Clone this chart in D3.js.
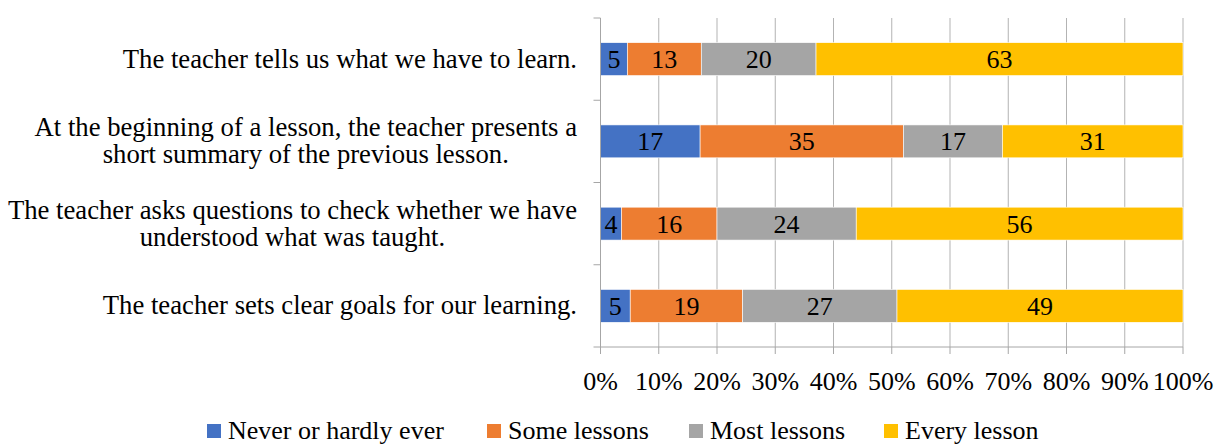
<!DOCTYPE html>
<html>
<head>
<meta charset="utf-8">
<script src="https://cdn.jsdelivr.net/npm/d3@7"></script>
<style>
  body { margin: 0; background: #fff; }
  svg { display: block; font-family: "Liberation Serif", "Times New Roman", serif; }
</style>
</head>
<body>
<div id="chart"></div>
<script>
// categories, top to bottom
const categories = [
  ['The teacher tells us what we have to learn.'],
  ['At the beginning of a lesson, the teacher presents a', 'short summary of the previous lesson.'],
  ['The teacher asks questions to check whether we have', 'understood what was taught.'],
  ['The teacher sets clear goals for our learning.']
];
const seriesNames = ['Never or hardly ever', 'Some lessons', 'Most lessons', 'Every lesson'];
const seriesColors = ['#4472C4', '#ED7D31', '#A5A5A5', '#FFC000'];

// percentages per category, one array per series
const never = [4.6, 17.1, 3.6, 5.1];
const some  = [12.7, 34.9, 16.4, 19.3];
const most  = [19.7, 17.0, 23.9, 26.5];
const every = [63.0, 31.0, 56.1, 49.1];

const xTicks = [0, 10, 20, 30, 40, 50, 60, 70, 80, 90, 100];

const width = 1217, height = 444;
const margin = { top: 18, left: 600.5, right: 34, bottom: 97 };
const fontSize = 26;

const svg = d3.select('#chart').append('svg')
  .attr('width', width)
  .attr('height', height);

const x = d3.scaleLinear().domain([0, 100]).range([margin.left, width - margin.right]);
const y = d3.scaleBand()
  .domain(d3.range(categories.length))
  .range([margin.top, height - margin.bottom])
  .paddingInner(0.6)
  .paddingOuter(0.3);

/* ---------- grid ---------- */
svg.append('g')
  .selectAll('line')
  .data(xTicks.slice(1))
  .enter().append('line')
  .attr('x1', d => x(d)).attr('x2', d => x(d))
  .attr('y1', margin.top).attr('y2', height - margin.bottom)
  .style('stroke', '#B3B3B3')
  .style('stroke-width', 1);

/* ---------- stacked bars ---------- */
const rows = categories.map((c, i) => {
  const vals = [never[i], some[i], most[i], every[i]];
  const total = d3.sum(vals);
  let acc = 0;
  return vals.map((v, k) => {
    const p = v / total * 100;
    const seg = { row: i, k: k, v: v, x0: acc, x1: acc + p };
    acc += p;
    return seg;
  });
});

const segs = svg.append('g').selectAll('g')
  .data(rows.flat())
  .enter().append('g');

segs.append('rect')
  .attr('x', d => x(d.x0))
  .attr('width', d => x(d.x1) - x(d.x0))
  .attr('y', d => y(d.row))
  .attr('height', y.bandwidth())
  .style('fill', d => seriesColors[d.k])
  .style('stroke', '#fff')
  .style('stroke-width', 0.6);

segs.append('text')
  .attr('x', d => (x(d.x0) + x(d.x1)) / 2)
  .attr('y', d => y(d.row) + y.bandwidth() / 2 + 9)
  .attr('text-anchor', 'middle')
  .style('font-size', fontSize + 'px')
  .style('fill', '#000')
  .text(d => Math.round(d.v));

/* ---------- axes ---------- */
const axisColor = '#A6A6A6';
const axis = svg.append('g');
axis.append('line')
  .attr('x1', x(0)).attr('x2', x(0))
  .attr('y1', margin.top).attr('y2', height - margin.bottom)
  .style('stroke', axisColor);
axis.append('line')
  .attr('x1', x(0)).attr('x2', x(100))
  .attr('y1', height - margin.bottom).attr('y2', height - margin.bottom)
  .style('stroke', axisColor);

// category boundary ticks on y axis
const bounds = d3.range(categories.length + 1).map(i => margin.top + i * y.step());
axis.selectAll('.ytick')
  .data(bounds)
  .enter().append('line')
  .attr('x1', x(0) - 7).attr('x2', x(0))
  .attr('y1', d => d).attr('y2', d => d)
  .style('stroke', axisColor);

axis.selectAll('.xtick')
  .data(xTicks)
  .enter().append('line')
  .attr('x1', d => x(d)).attr('x2', d => x(d))
  .attr('y1', height - margin.bottom).attr('y2', height - margin.bottom + 7)
  .style('stroke', axisColor);

axis.selectAll('.xlabel')
  .data(xTicks)
  .enter().append('text')
  .attr('x', d => x(d))
  .attr('y', 390)
  .attr('text-anchor', 'middle')
  .style('font-size', fontSize + 'px')
  .text(d => d + '%');

/* ---------- category labels ---------- */
const labelRight = 577;
const lineH = 27;
categories.forEach((lines, i) => {
  const cy = y(i) + y.bandwidth() / 2;
  const g = svg.append('g');
  const texts = lines.map((t, j) => g.append('text')
    .attr('y', cy + (j - (lines.length - 1) / 2) * lineH + 8.5)
    .attr('text-anchor', 'middle')
    .style('font-size', '26.7px')
    .text(t));
  const w = d3.max(texts, t => t.node().getComputedTextLength());
  texts.forEach(t => t.attr('x', labelRight - w / 2));
});

/* ---------- legend ---------- */
const legendX = [207, 487, 689, 884];
const legend = svg.append('g').selectAll('g')
  .data(seriesNames)
  .enter().append('g')
  .attr('transform', (d, i) => 'translate(' + legendX[i] + ',0)');
legend.append('rect')
  .attr('x', 0).attr('y', 424)
  .attr('width', 14).attr('height', 14)
  .style('fill', (d, i) => seriesColors[i]);
legend.append('text')
  .attr('x', 21).attr('y', 439)
  .style('font-size', fontSize + 'px')
  .text(d => d);
</script>
</body>
</html>
